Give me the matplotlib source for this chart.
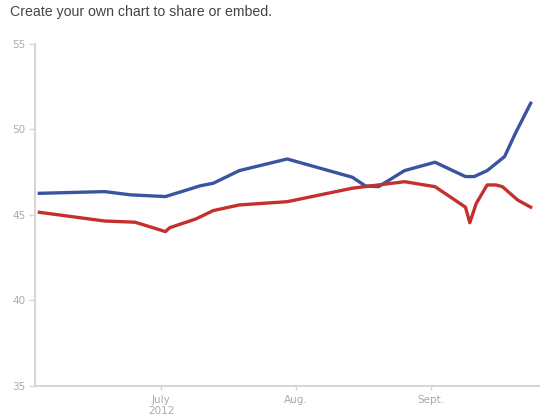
import matplotlib
matplotlib.use("Agg")
import matplotlib.pyplot as plt
import pandas as pd

blue_dates = ["2012-06-03", "2012-06-18", "2012-06-24", "2012-07-02", "2012-07-10", "2012-07-13",
              "2012-07-19", "2012-07-30", "2012-08-14", "2012-08-17", "2012-08-20", "2012-08-26",
              "2012-09-02", "2012-09-09", "2012-09-11", "2012-09-14", "2012-09-18", "2012-09-20 12:00",
              "2012-09-24"]
blue_values = [46.26, 46.36, 46.17, 46.07, 46.7, 46.85, 47.59, 48.27, 47.2, 46.69, 46.65, 47.59,
               48.08, 47.24, 47.24, 47.59, 48.41, 49.78, 51.53]

red_dates = ["2012-06-03", "2012-06-18", "2012-06-25", "2012-07-02", "2012-07-03", "2012-07-09",
             "2012-07-13", "2012-07-19", "2012-07-30", "2012-08-14", "2012-08-20", "2012-08-26",
             "2012-09-02", "2012-09-09", "2012-09-10", "2012-09-11 12:00", "2012-09-14", "2012-09-16",
             "2012-09-17 12:00", "2012-09-21", "2012-09-24"]
red_values = [45.15, 44.64, 44.57, 44.02, 44.25, 44.76, 45.25, 45.58, 45.77, 46.56, 46.75, 46.94,
              46.65, 45.45, 44.54, 45.68, 46.75, 46.75, 46.65, 45.87, 45.45]

x_ticks = ["2012-07-01", "2012-08-01", "2012-09-01"]
x_tick_labels = ["July\n2012", "Aug.", "Sept."]
y_ticks = [35, 40, 45, 50, 55]

fig = plt.figure(figsize=(5.5, 4.2), dpi=100)
ax = fig.add_axes([35/550, 1-385.7/420, (539-35)/550, (385.7-44)/420])

ax.plot(pd.to_datetime(blue_dates, format="mixed"), blue_values, color="#3a55a0", lw=2.4,
        solid_joinstyle="round")
ax.plot(pd.to_datetime(red_dates, format="mixed"), red_values, color="#c4302e", lw=2.4,
        solid_joinstyle="round")

ax.set_ylim(35, 55)
ax.set_xlim(pd.Timestamp("2012-06-02"), pd.Timestamp("2012-09-25 22:00"))
ax.set_yticks(y_ticks)
ax.set_xticks(pd.to_datetime(x_ticks))
ax.set_xticklabels(x_tick_labels)

for s in ["top", "right"]:
    ax.spines[s].set_visible(False)
for s in ["left", "bottom"]:
    ax.spines[s].set_color("#d6d6d6")
    ax.spines[s].set_linewidth(1.5)

ax.tick_params(axis="y", length=4, width=1, color="#d6d6d6", labelcolor="#aaaaaa", labelsize=7.5, pad=3)
ax.tick_params(axis="x", length=3, width=1, color="#d6d6d6", labelcolor="#aaaaaa", labelsize=7.5, pad=4)
for lbl in ax.get_xticklabels():
    lbl.set_linespacing(1.05)

fig.text(10/550, 1-12/420, "Create your own chart to share or embed.", fontsize=10.2,
         color="#444444", va="center", ha="left", family="Liberation Sans")

fig.savefig("out.png", dpi=100)
